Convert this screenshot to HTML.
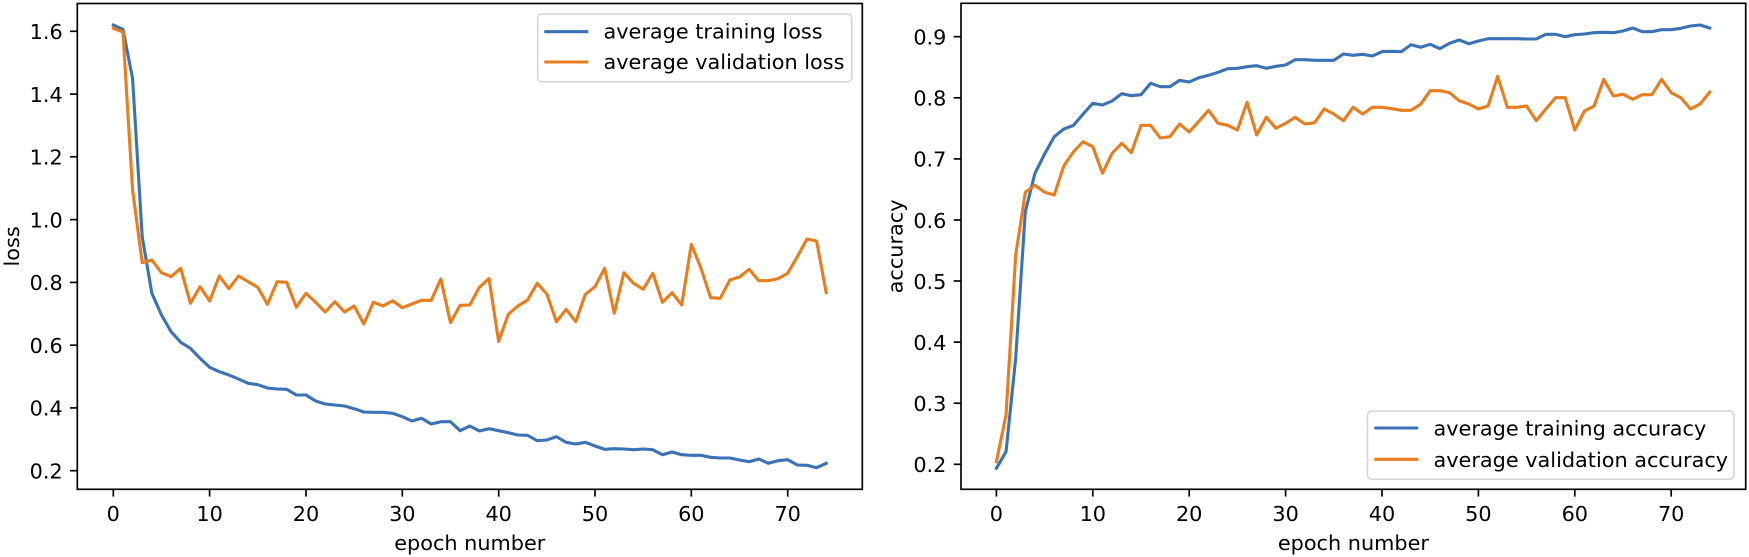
<!DOCTYPE html>
<html><head><meta charset="utf-8"><style>
html,body{margin:0;padding:0;background:#fff;}
svg{display:block;}
text{font-family:"DejaVu Sans","Liberation Sans",sans-serif;font-size:20.8px;fill:#000;}
</style></head><body>
<svg width="1749" height="557" viewBox="0 0 1749 557" xmlns="http://www.w3.org/2000/svg">
<rect width="1749" height="557" fill="#fff"/>

<!-- LEFT CHART -->
<g transform="translate(113.3,0) scale(9.634,1)" fill="none" stroke-linejoin="round" stroke-linecap="square">
<polyline vector-effect="non-scaling-stroke" stroke="#3a72b5" stroke-width="3.1" points="0,25 1,29.3 2,78.3 3,236.7 4,293.3 5,315 6,331.7 7,342.3 8,348.3 9,358.3 10,367.3 11,371.7 12,375 13,379 14,383.3 15,384.7 16,388 17,389 18,389.3 19,395 20,395 21,401 22,404 23,405 24,406 25,408.7 26,412 27,412.3 28,412.3 29,413.3 30,416.7 31,421 32,418.3 33,424 34,421.7 35,421.7 36,430.7 37,426 38,431 39,428.7 40,430.7 41,432.7 42,435 43,435.3 44,440.7 45,440 46,436.7 47,442.3 48,444 49,442.3 50,446 51,449.3 52,448.7 53,449 54,449.7 55,449 56,449.7 57,454.7 58,452 59,454.7 60,455.3 61,455.3 62,457.3 63,458 64,458 65,460 66,461.7 67,459 68,463.3 69,460.7 70,459.7 71,465 72,465.3 73,467.7 74,463.3"/>
<polyline vector-effect="non-scaling-stroke" stroke="#e87d1e" stroke-width="3.1" points="0,28.3 1,32 2,190 3,262.7 4,260 5,272.7 6,276.7 7,268.3 8,303.3 9,286.7 10,301 11,276 12,288.7 13,276 14,281.7 15,287.3 16,304.3 17,281.7 18,282.3 19,307.3 20,293.3 21,302.3 22,312 23,301.7 24,312 25,306 26,324 27,302.3 28,306 29,300.7 30,307.7 31,304 32,300.3 33,300.3 34,279 35,322.7 36,305.3 37,305 38,287.3 39,278.5 40,341.5 41,314.3 42,306 43,300 44,283.3 45,294 46,321.7 47,309.3 48,321.7 49,294.3 50,286.7 51,268.3 52,313.3 53,272.7 54,283.3 55,289.3 56,273.3 57,302.3 58,292.7 59,305 60,244.3 61,268.3 62,297.7 63,298.3 64,280 65,277 66,269.3 67,280.7 68,280.7 69,278.7 70,273.3 71,256.7 72,239 73,241 74,292.7"/>
</g>
<rect x="77.3" y="3.5" width="785" height="485.8" fill="none" stroke="#000" stroke-width="1.67"/>
<g stroke="#000" stroke-width="1.67">
<line x1="113.3" y1="489.3" x2="113.3" y2="496.6"/>
<line x1="209.6" y1="489.3" x2="209.6" y2="496.6"/>
<line x1="306" y1="489.3" x2="306" y2="496.6"/>
<line x1="402.3" y1="489.3" x2="402.3" y2="496.6"/>
<line x1="498.7" y1="489.3" x2="498.7" y2="496.6"/>
<line x1="595" y1="489.3" x2="595" y2="496.6"/>
<line x1="691.3" y1="489.3" x2="691.3" y2="496.6"/>
<line x1="787.7" y1="489.3" x2="787.7" y2="496.6"/>
<line x1="70" y1="31.3" x2="77.3" y2="31.3"/>
<line x1="70" y1="94.1" x2="77.3" y2="94.1"/>
<line x1="70" y1="156.8" x2="77.3" y2="156.8"/>
<line x1="70" y1="219.6" x2="77.3" y2="219.6"/>
<line x1="70" y1="282.4" x2="77.3" y2="282.4"/>
<line x1="70" y1="345.2" x2="77.3" y2="345.2"/>
<line x1="70" y1="407.9" x2="77.3" y2="407.9"/>
<line x1="70" y1="470.7" x2="77.3" y2="470.7"/>
</g>
<g text-anchor="middle">
<text x="113.3" y="521">0</text>
<text x="209.6" y="521">10</text>
<text x="306" y="521">20</text>
<text x="402.3" y="521">30</text>
<text x="498.7" y="521">40</text>
<text x="595" y="521">50</text>
<text x="691.3" y="521">60</text>
<text x="787.7" y="521">70</text>
<text x="469.8" y="550">epoch number</text>
</g>
<g text-anchor="end">
<text x="62.7" y="39.1">1.6</text>
<text x="62.7" y="101.9">1.4</text>
<text x="62.7" y="164.6">1.2</text>
<text x="62.7" y="227.4">1.0</text>
<text x="62.7" y="290.2">0.8</text>
<text x="62.7" y="353">0.6</text>
<text x="62.7" y="415.7">0.4</text>
<text x="62.7" y="478.5">0.2</text>
</g>
<text transform="translate(19,246.4) rotate(-90)" text-anchor="middle">loss</text>
<!-- left legend -->
<rect x="537.7" y="14" width="314" height="67.7" rx="4" ry="4" fill="#fff" fill-opacity="0.8" stroke="#d2d2d2" stroke-width="1.5"/>
<line x1="544.3" y1="31.7" x2="588.3" y2="31.7" stroke="#3a72b5" stroke-width="3.1"/>
<line x1="544.3" y1="62" x2="588.3" y2="62" stroke="#e87d1e" stroke-width="3.1"/>
<text x="603.5" y="38.5">average training loss</text>
<text x="603.5" y="68.8">average validation loss</text>

<!-- RIGHT CHART -->
<g transform="translate(996.4,0) scale(9.64,1)" fill="none" stroke-linejoin="round" stroke-linecap="square">
<polyline vector-effect="non-scaling-stroke" stroke="#3a72b5" stroke-width="3.1" points="0,468.3 1,451.7 2,358.3 3,211.7 4,173.3 5,154 6,136.7 7,129 8,125.3 9,114 10,103.3 11,105 12,101 13,93.7 14,95.7 15,94.7 16,83.3 17,86.7 18,86.7 19,80.3 20,82 21,77.7 22,75.3 23,72.3 24,68.7 25,68.3 26,66.7 27,65.7 28,68.3 29,66.3 30,65 31,59.7 32,59.7 33,60.3 34,60.3 35,60.3 36,54 37,55.3 38,54.3 39,56 40,51.7 41,51.3 42,51.7 43,44.7 44,47.3 45,44.3 46,48.7 47,43.3 48,40 49,43.7 50,41 51,38.7 52,38.7 53,38.7 54,38.7 55,39 56,39 57,34.3 58,34.3 59,36.7 60,34.7 61,34 62,32.7 63,32.3 64,32.7 65,31 66,28 67,31.7 68,31.7 69,29.7 70,29.7 71,28.3 72,26 73,25 74,28"/>
<polyline vector-effect="non-scaling-stroke" stroke="#e87d1e" stroke-width="3.1" points="0,461.7 1,415 2,255 3,192.3 4,185.3 5,192.3 6,195 7,165.7 8,151.7 9,141.7 10,146.7 11,173.3 12,153.3 13,143.3 14,152.7 15,125.3 16,125.3 17,138 18,136.7 19,124 20,132 21,121.3 22,110.3 23,123.3 24,125.3 25,130 26,102.3 27,135 28,117.3 29,128.3 30,123.3 31,117.3 32,124 33,122.7 34,109 35,114 36,120.7 37,107.3 38,114 39,107.3 40,107.3 41,108.7 42,110.3 43,110.3 44,104.3 45,90.7 46,90.7 47,92.7 48,100.7 49,104 50,109 51,106 52,76.3 53,107.3 54,107.3 55,106 56,120.7 57,109 58,97.7 59,97.7 60,130 61,111 62,106 63,79.3 64,96 65,94.3 66,99.3 67,94.7 68,94.7 69,79.3 70,92.7 71,97.7 72,109 73,104 74,92"/>
</g>
<rect x="961" y="3.3" width="784.7" height="486" fill="none" stroke="#000" stroke-width="1.67"/>
<g stroke="#000" stroke-width="1.67">
<line x1="996.4" y1="489.3" x2="996.4" y2="496.6"/>
<line x1="1092.8" y1="489.3" x2="1092.8" y2="496.6"/>
<line x1="1189.2" y1="489.3" x2="1189.2" y2="496.6"/>
<line x1="1285.6" y1="489.3" x2="1285.6" y2="496.6"/>
<line x1="1382" y1="489.3" x2="1382" y2="496.6"/>
<line x1="1478.4" y1="489.3" x2="1478.4" y2="496.6"/>
<line x1="1574.8" y1="489.3" x2="1574.8" y2="496.6"/>
<line x1="1671.2" y1="489.3" x2="1671.2" y2="496.6"/>
<line x1="953.7" y1="36.7" x2="961" y2="36.7"/>
<line x1="953.7" y1="97.8" x2="961" y2="97.8"/>
<line x1="953.7" y1="158.9" x2="961" y2="158.9"/>
<line x1="953.7" y1="220" x2="961" y2="220"/>
<line x1="953.7" y1="281" x2="961" y2="281"/>
<line x1="953.7" y1="342.1" x2="961" y2="342.1"/>
<line x1="953.7" y1="403.2" x2="961" y2="403.2"/>
<line x1="953.7" y1="464.3" x2="961" y2="464.3"/>
</g>
<g text-anchor="middle">
<text x="996.4" y="521">0</text>
<text x="1092.8" y="521">10</text>
<text x="1189.2" y="521">20</text>
<text x="1285.6" y="521">30</text>
<text x="1382" y="521">40</text>
<text x="1478.4" y="521">50</text>
<text x="1574.8" y="521">60</text>
<text x="1671.2" y="521">70</text>
<text x="1353.4" y="550">epoch number</text>
</g>
<g text-anchor="end">
<text x="946.4" y="44.5">0.9</text>
<text x="946.4" y="105.6">0.8</text>
<text x="946.4" y="166.7">0.7</text>
<text x="946.4" y="227.8">0.6</text>
<text x="946.4" y="288.8">0.5</text>
<text x="946.4" y="349.9">0.4</text>
<text x="946.4" y="411">0.3</text>
<text x="946.4" y="472.1">0.2</text>
</g>
<text transform="translate(902.5,246.4) rotate(-90)" text-anchor="middle">accuracy</text>
<!-- right legend -->
<rect x="1367.5" y="411" width="366.5" height="68.3" rx="4" ry="4" fill="#fff" fill-opacity="0.8" stroke="#d2d2d2" stroke-width="1.5"/>
<line x1="1374.3" y1="428" x2="1418.3" y2="428" stroke="#3a72b5" stroke-width="3.1"/>
<line x1="1374.3" y1="459.3" x2="1418.3" y2="459.3" stroke="#e87d1e" stroke-width="3.1"/>
<text x="1433.5" y="435.6">average training accuracy</text>
<text x="1433.5" y="466.9">average validation accuracy</text>
</svg>
</body></html>
